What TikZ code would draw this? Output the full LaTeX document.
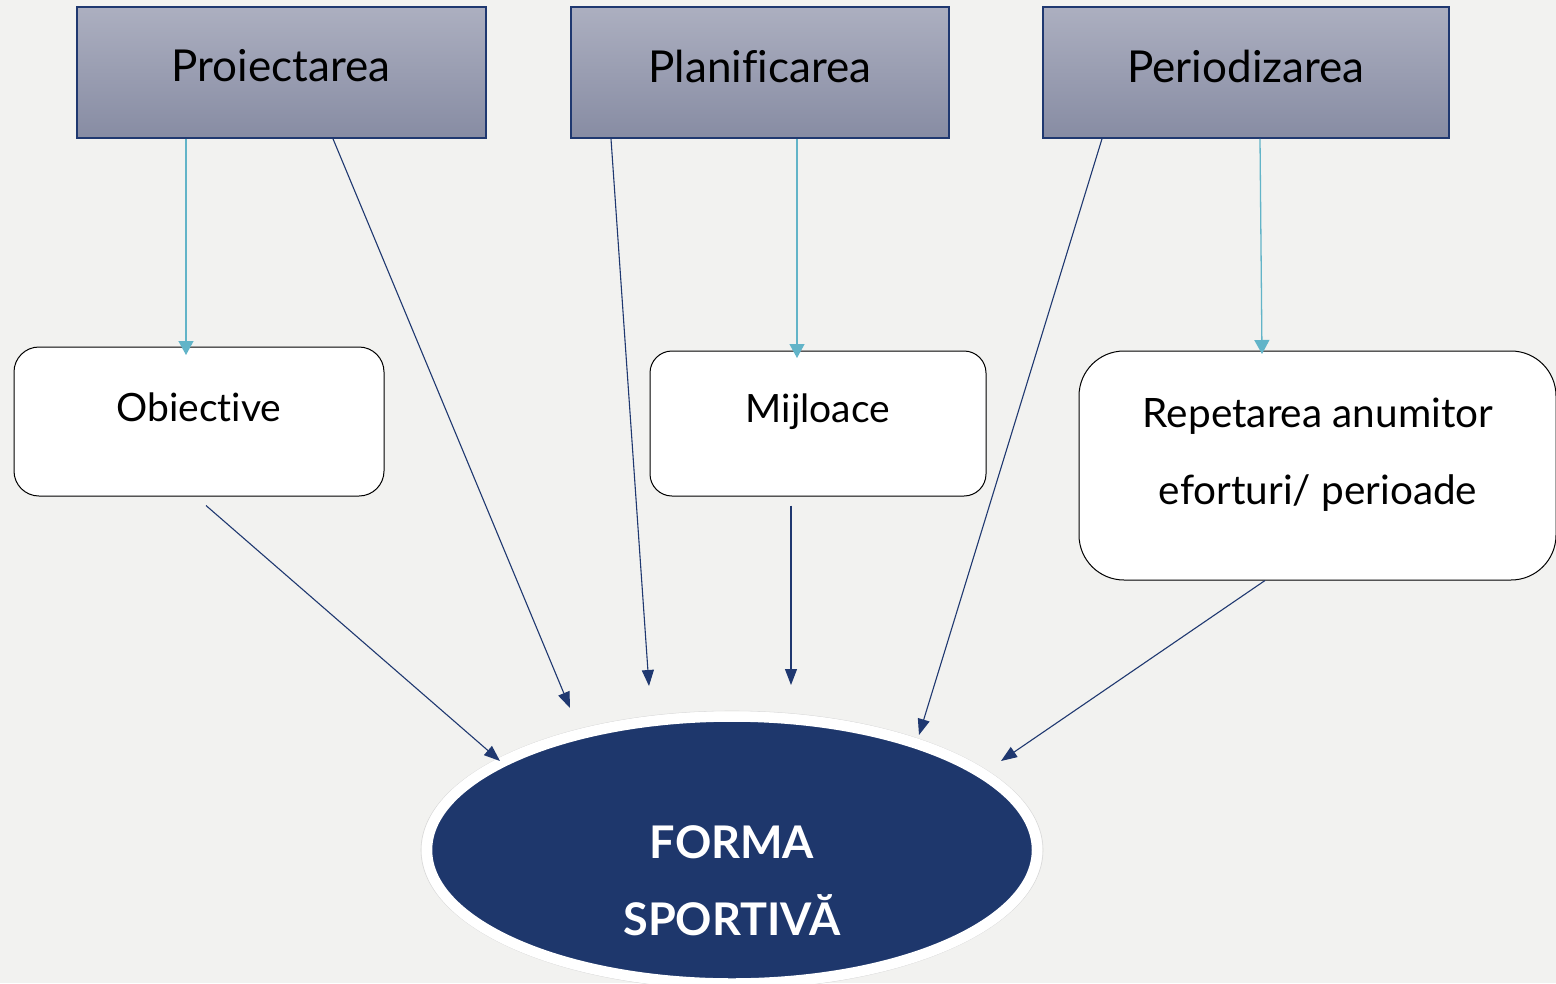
\documentclass[tikz,border=0pt]{standalone}
\usepackage{fontspec}
\setmainfont{Lato}[Ligatures={NoCommon,NoContextual}]
\usetikzlibrary{arrows.meta,shapes.geometric,calc}
\definecolor{bg}{HTML}{F2F2F0}
\definecolor{navy}{HTML}{1F3870}
\definecolor{ovalfill}{HTML}{1E376C}
\definecolor{cyanl}{HTML}{62B4C8}
\definecolor{gtop}{HTML}{ACAFC0}
\definecolor{gbot}{HTML}{878CA3}
\begin{document}
\begin{tikzpicture}[x=1pt,y=-1pt,
  topbox/.style={draw=navy,line width=1.6pt,top color=gtop,bottom color=gbot,inner sep=0pt},
  rbox/.style={draw=black,line width=1pt,fill=white,inner sep=0pt},
  toptext/.style={font=\fontsize{44}{50}\selectfont,inner sep=0pt},
  boxtext/.style={font=\fontsize{39}{77}\selectfont,inner sep=0pt,align=center},
  ovaltext/.style={font=\bfseries\fontsize{45}{77}\selectfont,text=white,inner sep=0pt,align=center},
  carrow/.style={draw=cyanl,line width=1.3pt,-{Triangle[length=14pt,width=15pt]}},
  narrow/.style={draw=navy,line width=1.1pt,-{Triangle[length=16pt,width=12pt]}}]
\fill[bg] (0,0) rectangle (1556,983);
\useasboundingbox (0,0) rectangle (1556,983);

% top boxes
\node[topbox,minimum width=409pt,minimum height=131pt] (p1) at (281.5,72.5) {};
\node[topbox,minimum width=378pt,minimum height=131pt] (p2) at (760,72.5) {};
\node[topbox,minimum width=406pt,minimum height=131pt] (p3) at (1246,72.5) {};
\node[toptext] (t1) at (281,66) {Proiectarea};
\node[toptext] (t2) at (760,66) {Planificarea};
\node[toptext] (t3) at (1246,66) {Periodizarea};

% middle boxes
\node[rbox,rounded corners=25pt,minimum width=370pt,minimum height=149pt] (o) at (199,421.5) {};
\node[rbox,rounded corners=22pt,minimum width=336pt,minimum height=145pt] (m) at (818,423.5) {};
\node[rbox,rounded corners=45pt,minimum width=477pt,minimum height=229pt] (r) at (1317.5,465.5) {};
\node[boxtext] (to) at (199,407) {Obiective};
\node[boxtext] (tm) at (818,412) {Mijloace};
\node[boxtext,font=\fontsize{40.5}{77}\selectfont] (tr) at (1318,455) {Repetarea anumitor\\eforturi/ perioade};

% oval
\node[ellipse,draw=black!15,line width=0.6pt,minimum width=622pt,minimum height=278pt,inner sep=0pt] (fo) at (732,850) {};
\node[ellipse,fill=ovalfill,draw=white,line width=10.5pt,minimum width=610pt,minimum height=267pt,inner sep=0pt] (f) at (732,850) {};
\node[ovaltext] (tf) at (732,881) {FORMA\\SPORTIVĂ};

% cyan arrows
\coordinate (c1) at (186,355);
\coordinate (c2) at (797,358);
\coordinate (c3) at (1262,354);
\draw[carrow] (p1.south -| c1) -- (c1);
\draw[carrow] (p2.south -| c2) -- (c2);
\draw[carrow] ([xshift=14pt]p3.south) -- (c3);

% navy arrows
\coordinate (n1) at (570,708);
\coordinate (n2) at (649,686);
\coordinate (n3) at (919,735);
\coordinate (n4) at (500,761);
\coordinate (n5) at (791,685);
\coordinate (n6) at (1001,761);
\draw[narrow] ([xshift=51.5pt]p1.south) -- (n1);
\draw[narrow] ([xshift=-149pt]p2.south) -- (n2);
\draw[narrow] ([xshift=-144pt]p3.south) -- (n3);
\draw[narrow] ([xshift=7pt,yshift=-9pt]o.south) -- (n4);
\draw[narrow] ([xshift=-27pt,yshift=-9pt]m.south) -- (n5);
\draw[narrow] ([xshift=-52.5pt]r.south) -- (n6);
\end{tikzpicture}
\end{document}
